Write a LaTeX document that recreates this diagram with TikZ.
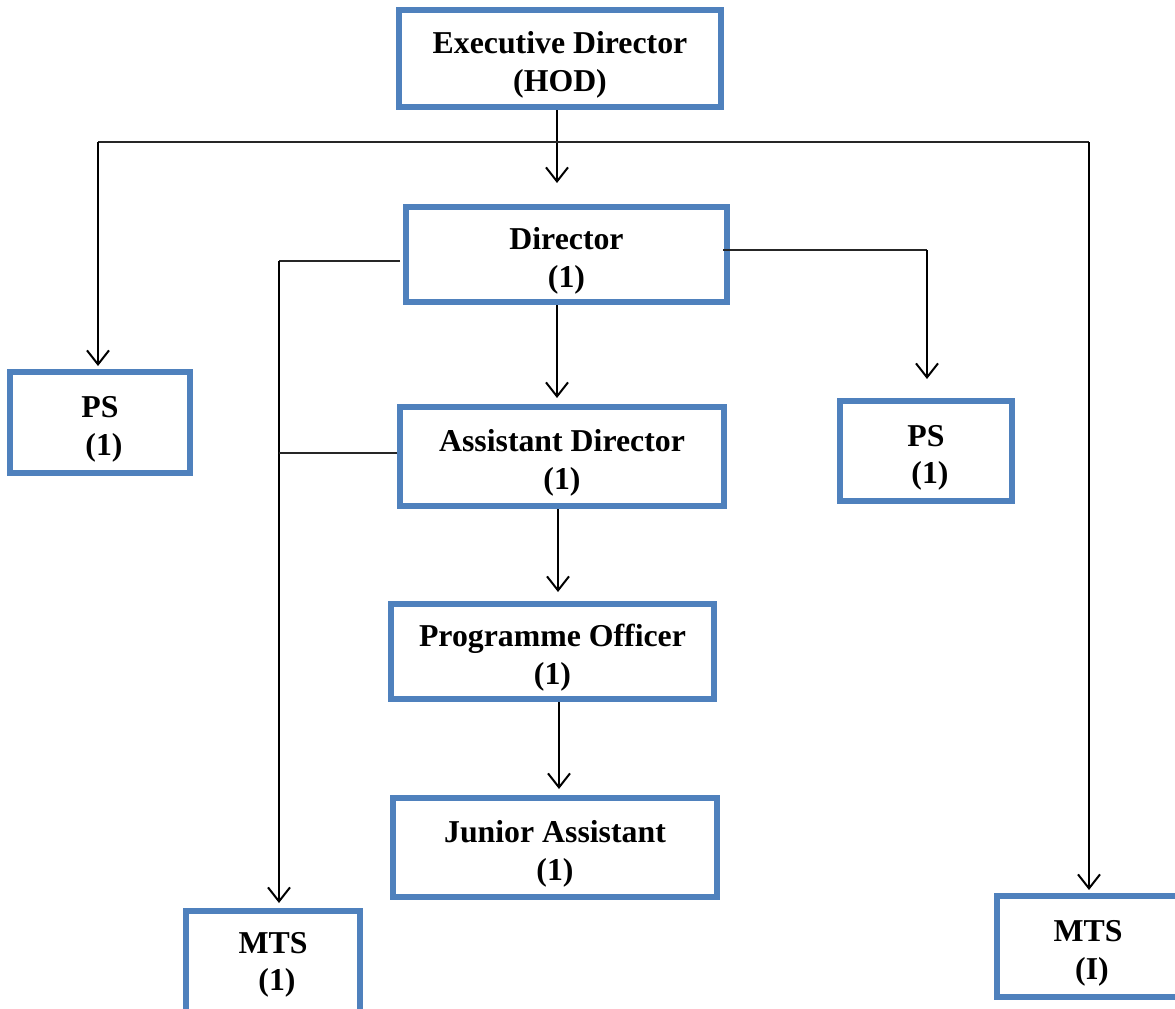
\documentclass[tikz,border=0pt]{standalone}
\usepackage{fontspec}
\setmainfont{Liberation Serif}
\usetikzlibrary{arrows.meta}
\definecolor{boxblue}{HTML}{4F81BD}
\newcommand{\tstr}{\rule{0pt}{35pt}}
\begin{document}
\begin{tikzpicture}[x=1pt,y=-1pt,
  lbl/.style={align=center, inner sep=0pt, font=\bfseries\fontsize{31.8}{37.5}\selectfont},
  box/.style={lbl, draw=boxblue, line width=6pt},
  hline/.style={line width=1.5pt, black!85},
  vline/.style={line width=2.2pt, black},
  arr/.style={vline, -{Straight Barb[length=14pt,width=22pt,line width=2pt]}}]
\useasboundingbox (0,0) rectangle (1175,1009);
% boxes
\node[box, minimum width=322pt, minimum height=97pt] (exec) at (560,58.5) {\tstr Executive Director\\(HOD)};
\node[box, minimum width=321pt, minimum height=95pt] (dir) at (566.5,254.5) {\tstr Director\\(1)};
\node[box, minimum width=324pt, minimum height=99pt] (ad) at (562,456.5) {\tstr Assistant Director\\(1)};
\node[box, minimum width=323pt, minimum height=95pt] (po) at (552.5,651.5) {\tstr Programme Officer\\(1)};
\node[box, minimum width=324pt, minimum height=99pt] (ja) at (555,847.5) {\tstr Junior Assistant\\(1)};
\node[box, minimum width=180pt, minimum height=101pt] (psl) at (100,422.5) {\tstr PS\\~(1)};
\node[box, minimum width=172pt, minimum height=100pt] (psr) at (926,451) {\tstr PS\\~(1)};
\node[box, minimum width=182pt, minimum height=101pt] (mtsr) at (1088,946.5) {\tstr MTS\\~(I)};
\node[box, minimum width=174pt, minimum height=120pt] (mtsl) at (273,971) {};
\node[lbl] (mtsltext) at (273,965) {MTS\\~(1)};
% coordinates
\coordinate (busl) at (98,142);
\coordinate (busr) at (1089,142);
\coordinate (t1) at (557,183);
\coordinate (pslt) at (98,366);
\coordinate (mtsrt) at (1089,890);
\coordinate (dr1) at (723,250);
\coordinate (dr2) at (927,250);
\coordinate (psrt) at (927,379);
\coordinate (dl1) at (400,261);
\coordinate (dl2) at (279,261);
\coordinate (mtslt) at (279,903);
\coordinate (al1) at (397,453);
\coordinate (al2) at (279,453);
\coordinate (t2) at (557,398);
\coordinate (t3) at (558,592);
\coordinate (t4) at (559,789);
% connectors
\draw[arr] (exec.south -| t1) -- (t1);
\draw[hline] (busl) -- (busr);
\draw[arr] (busl) -- (pslt);
\draw[arr] (busr) -- (mtsrt);
\draw[hline] (dr1) -- (dr2);
\draw[arr] (dr2) -- (psrt);
\draw[hline] (dl1) -- (dl2);
\draw[arr] (dl2) -- (mtslt);
\draw[hline] (al1) -- (al2);
\draw[arr] (dir.south -| t2) -- (t2);
\draw[arr] (ad.south -| t3) -- (t3);
\draw[arr] (po.south -| t4) -- (t4);
\end{tikzpicture}
\end{document}
